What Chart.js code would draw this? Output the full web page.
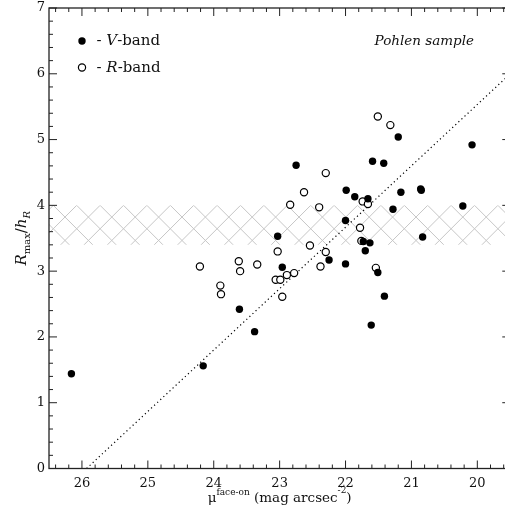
<!DOCTYPE html>
<html>
<head>
<meta charset="utf-8">
<script src="https://cdn.jsdelivr.net/npm/chart.js@4.4.1/dist/chart.umd.min.js"></script>
<style>
  html, body { margin: 0; padding: 0; background: #fff; overflow: hidden; }
</style>
</head>
<body>
<canvas id="chart" width="505" height="510"></canvas>
<script>
// values (x = face-on surface brightness, y = Rmax/hR)
const vBandMu    = [26.16, 24.16, 23.61, 23.38, 22.96, 23.03, 22.75, 22.25, 22.00, 22.00, 21.99, 21.86, 21.66, 21.59, 21.42,
                    21.20, 21.16, 20.86, 20.85, 21.28, 20.22, 20.08, 20.83, 21.73, 21.63, 21.70, 21.51, 21.41, 21.61];
const vBandRatio = [1.44, 1.56, 2.42, 2.08, 3.06, 3.53, 4.61, 3.17, 3.11, 3.77, 4.23, 4.13, 4.10, 4.67, 4.64,
                    5.04, 4.20, 4.25, 4.23, 3.94, 3.99, 4.92, 3.52, 3.45, 3.43, 3.31, 2.98, 2.62, 2.18];

const rBandMu    = [24.21, 23.90, 23.89, 23.62, 23.60, 23.34, 23.06, 22.99, 22.89, 22.78, 22.96, 23.03, 22.84,
                    22.63, 22.54, 22.40, 22.38, 22.30, 22.30, 21.78, 21.76, 21.74, 21.66, 21.54, 21.51, 21.32];
const rBandRatio = [3.07, 2.78, 2.65, 3.15, 3.00, 3.10, 2.87, 2.87, 2.94, 2.97, 2.61, 3.30, 4.01,
                    4.20, 3.39, 3.97, 3.07, 3.29, 4.49, 3.66, 3.46, 4.06, 4.02, 3.05, 5.35, 5.22];

// dotted relation
const fitMu    = [25.93, 19.5];
const fitRatio = [0, 6.0];

// hatched band
const bandLow  = 3.4;
const bandHigh = 4.0;

// tick labels
const xTickValues = [26, 25, 24, 23, 22, 21, 20];
const yTickValues = [0, 1, 2, 3, 4, 5, 6, 7];

// axis box runs 26.5 .. 19.5, the picture is cut a little before the right side
const xMin = 19.5, xMax = 26.5, xCut = 19.58;
const yMin = 0, yMax = 7;

const FONT = '"DejaVu Serif", serif';

function toPoints(xs, ys) {
    return xs.map((v, i) => ({ x: v, y: ys[i] }));
}

// width of a row of text pieces (sub/superscripts)
function runsWidth(ctx, runs) {
    let w = 0;
    runs.forEach(r => {
        ctx.font = (r.italic ? 'italic ' : '') + r.size + 'px ' + FONT;
        w += ctx.measureText(r.text).width;
    });
    return w;
}

function drawRuns(ctx, runs, x, y) {
    runs.forEach(r => {
        ctx.font = (r.italic ? 'italic ' : '') + r.size + 'px ' + FONT;
        ctx.fillText(r.text, x, y + (r.dy || 0));
        x += ctx.measureText(r.text).width;
    });
}

const framePlugin = {
    id: 'frame',
    beforeDatasetsDraw(chart) {
        const { ctx, chartArea: a, scales: { y } } = chart;
        const top = y.getPixelForValue(bandHigh);
        const bottom = y.getPixelForValue(bandLow);
        const h = bottom - top;
        const step = 23.4;

        ctx.save();
        ctx.beginPath();
        ctx.rect(a.left, top, a.right - a.left, h);
        ctx.clip();
        ctx.strokeStyle = '#c6c6c6';
        ctx.lineWidth = 1;
        ctx.beginPath();
        for (let px = a.left + 4.3 - 3 * step; px < a.right + 3 * step; px += step) {
            ctx.moveTo(px, top);
            ctx.lineTo(px + 2 * h, top + 2 * h);
            ctx.moveTo(px, top);
            ctx.lineTo(px - 2 * h, top + 2 * h);
        }
        ctx.stroke();
        ctx.restore();
    },
    afterDraw(chart) {
        const { ctx, chartArea: a, scales: { x, y } } = chart;
        const boxRight = x.getPixelForValue(xMin);   // just outside the canvas
        ctx.save();

        // box
        ctx.strokeStyle = '#222';
        ctx.lineWidth = 1.3;
        ctx.strokeRect(a.left, a.top, boxRight - a.left, a.bottom - a.top);

        // inward ticks, minor every 0.2
        ctx.lineWidth = 1;
        ctx.beginPath();
        for (let i = Math.ceil(xMin * 5); i <= Math.floor(xMax * 5); i++) {
            const px = x.getPixelForValue(i / 5);
            const len = i % 5 === 0 ? 8 : 4;
            ctx.moveTo(px, a.bottom);
            ctx.lineTo(px, a.bottom - len);
            ctx.moveTo(px, a.top);
            ctx.lineTo(px, a.top + len);
        }
        for (let i = yMin * 5; i <= yMax * 5; i++) {
            const py = y.getPixelForValue(i / 5);
            const len = i % 5 === 0 ? 8 : 4;
            ctx.moveTo(a.left, py);
            ctx.lineTo(a.left + len, py);
            ctx.moveTo(boxRight, py);
            ctx.lineTo(boxRight - len, py);
        }
        ctx.stroke();

        ctx.fillStyle = '#111';
        ctx.textBaseline = 'alphabetic';

        // x title
        const xRuns = [
            { text: '\u03bc', size: 13.5 },
            { text: 'face-on', size: 9, dy: -7 },
            { text: ' (mag arcsec', size: 13.5 },
            { text: '-2', size: 9, dy: -9 },
            { text: ')', size: 13.5 }
        ];
        const xw = runsWidth(ctx, xRuns);
        drawRuns(ctx, xRuns, (a.left + boxRight) / 2 - xw / 2, 502);

        // y title, rotated
        const yRuns = [
            { text: 'R', size: 15, italic: true },
            { text: 'max', size: 10, dy: 4 },
            { text: '/', size: 15 },
            { text: 'h', size: 15, italic: true },
            { text: 'R', size: 10, italic: true, dy: 4 }
        ];
        const yw = runsWidth(ctx, yRuns);
        ctx.save();
        ctx.translate(26, (a.top + a.bottom) / 2);
        ctx.rotate(-Math.PI / 2);
        drawRuns(ctx, yRuns, -yw / 2, 0);
        ctx.restore();

        // legend
        ctx.fillStyle = '#000';
        ctx.beginPath();
        ctx.arc(82, 41, 3.7, 0, Math.PI * 2);
        ctx.fill();
        ctx.fillStyle = '#fff';
        ctx.strokeStyle = '#000';
        ctx.lineWidth = 1.2;
        ctx.beginPath();
        ctx.arc(82, 67.5, 3.6, 0, Math.PI * 2);
        ctx.fill();
        ctx.stroke();

        ctx.fillStyle = '#111';
        drawRuns(ctx, [
            { text: '- ', size: 15 },
            { text: 'V', size: 15, italic: true },
            { text: '-band', size: 15 }
        ], 96.5, 45);
        drawRuns(ctx, [
            { text: '- ', size: 15 },
            { text: 'R', size: 15, italic: true },
            { text: '-band', size: 15 }
        ], 96.5, 72);

        // sample note
        ctx.font = 'italic 13.5px ' + FONT;
        ctx.textAlign = 'right';
        ctx.fillText('Pohlen sample', 474, 45);

        ctx.restore();
    }
};

new Chart(document.getElementById('chart'), {
    type: 'scatter',
    data: {
        datasets: [
            {
                label: 'V-band',
                data: toPoints(vBandMu, vBandRatio),
                pointRadius: 3.7,
                pointBackgroundColor: '#000',
                pointBorderWidth: 0,
            },
            {
                label: 'R-band',
                data: toPoints(rBandMu, rBandRatio),
                pointRadius: 3.6,
                pointBackgroundColor: '#fff',
                pointBorderColor: '#000',
                pointBorderWidth: 1.2,
            },
            {
                type: 'line',
                label: 'relation',
                data: toPoints(fitMu, fitRatio),
                borderColor: '#000',
                borderWidth: 1.2,
                borderDash: [1.2, 3],
                pointRadius: 0,
                fill: false,
            },
        ],
    },
    options: {
        responsive: false,
        animation: false,
        devicePixelRatio: 1,
        layout: { autoPadding: false, padding: { top: 8, right: 0, left: 0, bottom: 0 } },
        plugins: {
            legend: { display: false },
            tooltip: { enabled: false },
        },
        scales: {
            x: {
                type: 'linear',
                min: xCut,
                max: xMax,
                reverse: true,
                grid: { display: false, drawTicks: false },
                border: { display: false },
                ticks: {
                    padding: 7,
                    color: '#111',
                    font: { family: FONT, size: 13 },
                },
                afterBuildTicks(scale) { scale.ticks = xTickValues.map(v => ({ value: v })); },
                afterFit(scale) {
                    scale.height = 41.5;
                    scale.paddingLeft = 0;
                    scale.paddingRight = 0;
                },
            },
            y: {
                min: yMin,
                max: yMax,
                grid: { display: false, drawTicks: false },
                border: { display: false },
                ticks: {
                    padding: 4,
                    color: '#111',
                    font: { family: FONT, size: 13 },
                },
                afterBuildTicks(scale) { scale.ticks = yTickValues.map(v => ({ value: v })); },
                afterFit(scale) {
                    scale.width = 49;
                    scale.paddingTop = 0;
                    scale.paddingBottom = 0;
                },
            },
        },
    },
    plugins: [framePlugin],
});
</script>
</body>
</html>
